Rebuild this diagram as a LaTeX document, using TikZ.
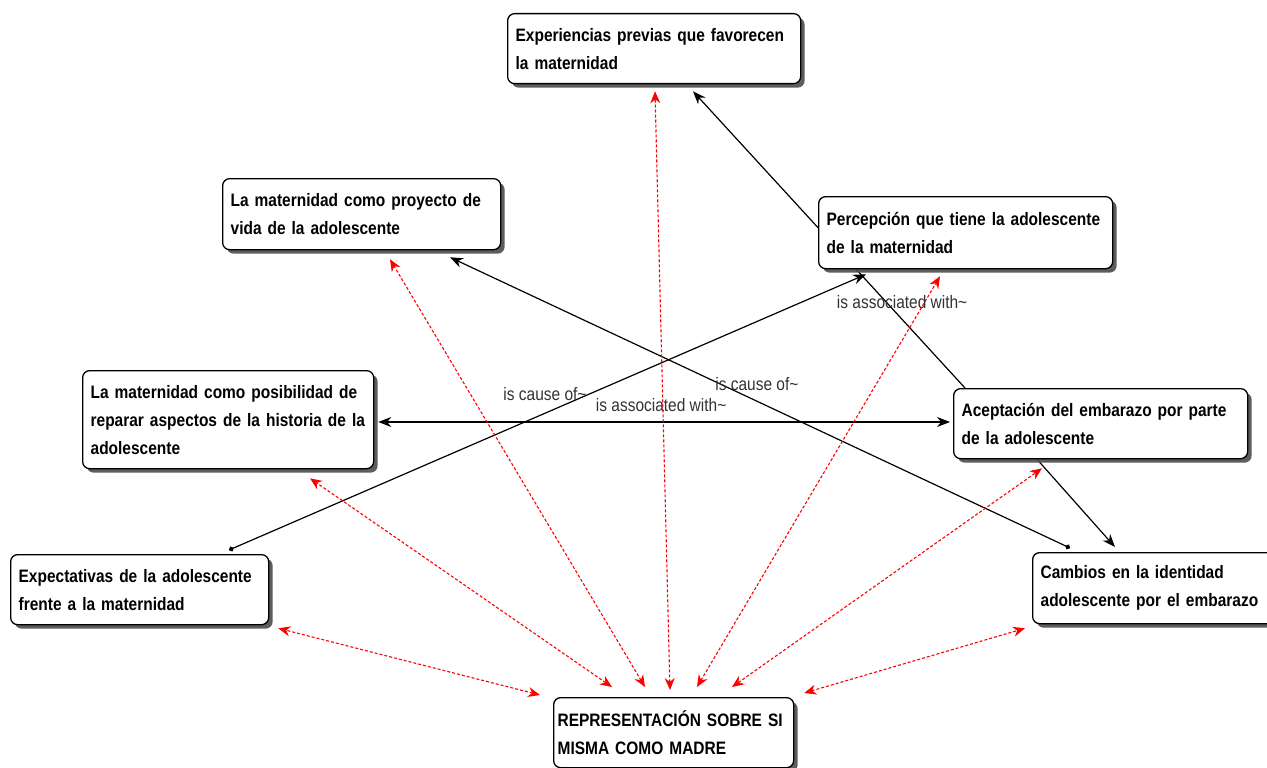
\documentclass[tikz,border=0pt]{standalone}
\usepackage{fontspec}
\newfontfamily\mapfont{Liberation Sans}[FakeStretch=0.86]
\usetikzlibrary{positioning}
\usetikzlibrary{arrows.meta}
\usetikzlibrary{shadows}
\usetikzlibrary{backgrounds}
\colorlet{Rel}{red}
\colorlet{Lab}{black!80}

\tikzset{
  concept/.style={draw, line width=1.3pt, rounded corners=7pt, fill=white,
    align=left, inner xsep=8pt, inner ysep=0pt, minimum height=70pt,
    font=\mapfont\bfseries\fontsize{18}{28}\selectfont,
    drop shadow={shadow xshift=4pt, shadow yshift=-4pt, fill=black!70, opacity=0.9}},
  cause/.style={line width=1.2pt, -{Stealth[length=13pt,width=10pt]}},
  causedot/.style={line width=1.2pt, {Circle[length=5pt]}-{Stealth[length=13pt,width=10pt]}},
  both/.style={line width=1.2pt, {Stealth[length=13pt,width=10pt]}-{Stealth[length=13pt,width=10pt]}},
  rel/.style={Rel, line width=1.1pt, dash pattern=on 3pt off 2pt,
    {Stealth[length=12pt,width=10pt]}-{Stealth[length=12pt,width=10pt]}},
  lab/.style={text=Lab, inner sep=0pt, font=\mapfont\fontsize{18}{20}\selectfont}
}

\begin{document}
\begin{tikzpicture}[x=1pt, y=-1pt]
        \useasboundingbox (0,0) rectangle (1267,768);

        % concepts
        \node[concept, text width=277pt, anchor=north west] (exp) at (507,13) {Experiencias previas que favorecen\\la maternidad};
        \node[concept, text width=262pt, minimum height=71pt, below right=165pt and -285pt of exp.north west] (proy) {La maternidad como proyecto de\\vida de la adolescente};
        \node[concept, text width=278pt, minimum height=72pt, below right=183pt and 311pt of exp.north west] (perc) {Percepción que tiene la adolescente\\de la maternidad};
        \node[concept, text width=275pt, minimum height=98pt, below right=192pt and -140pt of proy.north west] (repar) {La maternidad como posibilidad de\\reparar aspectos de la historia de la\\adolescente};
        \node[concept, text width=278pt, below right=192pt and 135pt of perc.north west] (acep) {Aceptación del embarazo por parte\\de la adolescente};
        \node[concept, text width=242pt, below right=184pt and -72pt of repar.north west] (expect) {Expectativas de la adolescente\\frente a la maternidad};
        \node[concept, text width=244pt, minimum height=71pt, below right=164pt and 79pt of acep.north west] (camb) {Cambios en la identidad\\adolescente por el embarazo};
        \node[concept, text width=232pt, inner xsep=4pt, below right=684pt and 46pt of exp.north west] (rep) {\mbox{REPRESENTACIÓN SOBRE SI}\\MISMA COMO MADRE};

        \begin{scope}[on background layer]
        \fill[white] (0,0) rectangle (1267,768);

        % black links
        \draw[cause] ([xshift=12pt]acep.north west) -- ([xshift=186pt,yshift=-7pt]exp.south west)
            node[lab, pos=0.29, xshift=16pt] {is associated with\textasciitilde};
        \draw[causedot] ([xshift=219pt,yshift=4pt]expect.north west) -- ([xshift=48pt,yshift=-5pt]perc.south west)
            node[lab, pos=0.496, yshift=19pt] {is cause of\textasciitilde};
        \draw[causedot] ([xshift=38pt,yshift=4pt]camb.north west) -- ([xshift=228pt,yshift=-7pt]proy.south west)
            node[lab, pos=0.505, yshift=17pt] {is cause of\textasciitilde};
        \draw[both] ([xshift=4pt,yshift=-52pt]repar.north east) -- ([xshift=-3pt,yshift=-34pt]acep.north west)
            node[lab, pos=0.5, xshift=-3pt, yshift=17pt] {is associated with\textasciitilde};
        \draw[cause] ([xshift=84pt]acep.south west) -- ([xshift=83pt,yshift=5pt]camb.north west);

        % red links
        \draw[rel] ([xshift=117pt,yshift=7pt]rep.north west) -- ([xshift=148pt,yshift=-7pt]exp.south west);
        \draw[rel] ([xshift=92pt,yshift=10pt]rep.north west) -- ([xshift=168pt,yshift=-9pt]proy.south west);
        \draw[rel] ([xshift=144pt,yshift=10pt]rep.north west) -- ([xshift=122pt,yshift=-7pt]perc.south west);
        \draw[rel] ([xshift=59pt,yshift=10pt]rep.north west) -- ([xshift=228pt,yshift=-9pt]repar.south west);
        \draw[rel] ([xshift=179pt,yshift=10pt]rep.north west) -- ([xshift=89pt,yshift=-9pt]acep.south west);
        \draw[rel] ([xshift=-13pt,yshift=2pt]rep.north west) -- ([xshift=9pt,yshift=-3pt]expect.south east);
        \draw[rel] ([xshift=10pt,yshift=4pt]rep.north east) -- ([xshift=-7pt,yshift=-4pt]camb.south west);
        \end{scope}
\end{tikzpicture}
\end{document}
